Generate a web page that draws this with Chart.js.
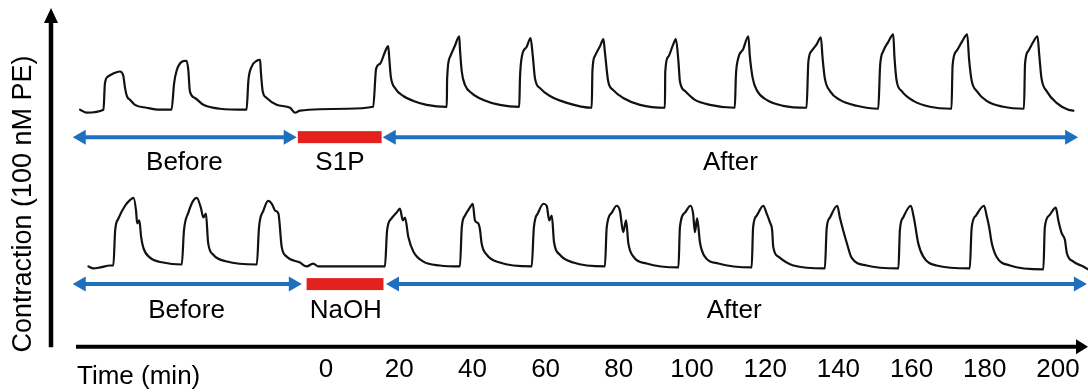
<!DOCTYPE html>
<html>
<head>
<meta charset="utf-8">
<script src="https://cdn.jsdelivr.net/npm/chart.js@4.4.1/dist/chart.umd.min.js"></script>
<style>
  html, body { margin: 0; padding: 0; background: #fff; }
  #wrap { width: 1088px; height: 392px; position: relative; }
</style>
</head>
<body>
<div id="wrap"><canvas id="c" width="1088" height="392"></canvas></div>
<script>
// ---- DATA (time in min, contraction in arbitrary units above baseline) ----
const timeTicks = [0, 20, 40, 60, 80, 100, 120, 140, 160, 180, 200];

// Top trace (S1P experiment)
const topTraceT = [-67.2,-65.4,-60.8,-60.4,-59.5,-58.1,-56.3,-55.4,-54.9,-54.4,-53.5,-52.2,-49.0,-45.4,-42.2,
  -41.5,-40.8,-39.4,-38.1,-37.6,-37.2,-35.8,-33.5,-29.0,-21.7,
  -21.2,-20.3,-18.9,-18.0,-17.8,-17.3,-16.2,-13.5,-9.8,-8.5,-7.1,5.7,12.9,
  13.7,14.8,16.1,17.0,17.3,17.7,18.9,21.1,23.9,27.5,33.0,
  33.1,33.9,35.2,36.4,36.6,37.1,38.0,39.8,43.0,47.5,52.8,
  53.0,53.5,54.8,55.9,56.5,57.1,58.5,61.2,65.8,72.6,
  72.8,73.5,74.9,75.8,76.2,77.1,78.5,81.2,85.8,92.6,
  92.7,93.5,94.9,95.6,96.3,96.7,98.1,100.8,104.9,111.7,
  112.0,112.6,114.0,115.4,115.8,116.6,117.7,120.4,124.9,131.3,
  131.8,132.7,134.1,135.2,135.7,136.3,137.7,140.4,145.0,150.9,
  151.4,152.3,153.6,155.0,155.3,155.9,157.3,160.5,165.0,170.9,
  171.2,172.3,173.7,175.2,175.7,176.4,177.8,180.5,185.0,190.7,
  191.0,191.9,193.2,194.4,194.9,195.5,196.9,199.6,202.8,204.2];
const topTraceV = [-0.1,-0.4,-0.1,2.6,3.3,3.6,3.8,3.4,2.1,1.3,0.9,0.4,0.1,-0.1,-0.1,
  2.6,3.9,4.8,4.9,3.9,1.8,1.1,0.4,0.0,-0.1,
  2.9,4.3,4.9,5.0,3.8,1.8,1.1,0.4,0.1,-0.4,-0.2,0.0,0.2,
  4.1,4.6,5.8,6.4,5.1,3.3,2.1,1.3,0.8,0.4,0.2,
  3.1,5.3,6.4,7.4,6.1,3.8,2.4,1.6,0.9,0.4,0.2,
  3.1,5.3,6.3,7.2,5.4,3.1,2.1,1.3,0.6,0.1,
  3.9,5.4,6.4,7.1,5.8,2.8,1.9,1.1,0.4,0.1,
  3.8,5.3,6.6,7.1,4.8,2.8,1.8,0.9,0.4,0.1,
  3.4,5.1,6.1,7.4,5.4,3.1,1.9,0.9,0.3,0.1,
  4.8,5.9,6.6,7.3,5.1,3.1,1.8,0.9,0.3,0.0,
  4.4,5.9,6.8,7.6,5.4,2.9,1.8,0.8,0.2,0.0,
  4.4,5.9,6.8,7.6,5.1,2.9,1.8,0.8,0.2,0.0,
  4.6,5.9,6.8,7.4,5.4,3.1,1.8,0.6,-0.1,-0.2];

// Bottom trace (NaOH experiment)
const botTraceT = [-64.9,-63.6,-61.7,-59.0,-58.1,
  -57.6,-56.7,-54.9,-53.5,-52.6,-51.9,-51.6,-51.0,-50.5,-49.9,-48.1,-44.5,-39.4,
  -38.8,-37.6,-36.3,-35.3,-34.2,-33.5,-32.8,-32.2,-30.8,-27.1,-18.9,
  -18.3,-17.1,-15.8,-14.8,-13.9,-13.0,-12.1,-10.7,-7.1,-5.3,-3.5,-2.1,5.7,16.1,
  16.7,17.9,19.3,20.2,21.0,21.6,22.5,23.9,26.6,31.1,36.6,
  37.1,38.0,39.3,40.1,40.7,41.6,42.1,42.5,43.9,47.5,56.2,
  56.8,58.0,59.4,60.3,61.0,61.7,62.3,63.9,67.6,76.2,
  76.7,78.1,79.4,80.3,81.2,82.0,82.6,84.0,87.6,96.3,
  96.7,98.1,99.6,100.3,100.8,101.4,102.2,103.5,107.2,116.3,
  116.7,117.7,119.5,120.4,121.3,121.9,122.2,123.6,127.7,136.3,
  136.8,137.7,139.7,140.4,141.3,142.3,143.6,147.7,156.4,
  156.8,157.7,159.8,160.5,160.9,161.8,163.2,166.8,175.9,
  176.4,177.6,179.8,180.5,181.2,181.9,183.2,186.9,196.0,
  196.4,197.6,199.4,200.1,201.0,201.9,202.4,204.2,206.9,208.2];
const botTraceV = [0.0,-0.2,-0.1,0.1,0.1,
  3.7,4.9,6.2,6.8,7.0,5.7,4.4,4.7,3.0,1.9,0.9,0.4,0.2,
  3.7,5.5,6.7,7.0,6.0,5.0,5.4,2.4,1.2,0.5,0.2,
  4.0,5.7,6.7,6.4,5.7,5.4,2.0,1.0,0.4,0.0,0.3,0.0,0.0,0.0,
  3.7,4.9,5.5,5.9,4.7,5.0,3.0,1.5,0.5,0.1,0.0,
  4.0,5.2,6.0,6.4,4.7,4.4,3.7,2.4,1.2,0.4,0.0,
  4.0,5.5,6.4,6.2,4.7,5.2,2.5,1.2,0.4,0.0,
  4.0,5.5,6.2,5.7,3.5,4.7,2.4,1.0,0.3,-0.1,
  4.0,5.5,6.2,5.4,3.5,4.9,2.4,1.0,0.3,-0.1,
  4.0,5.2,6.2,5.4,4.5,3.7,2.0,1.0,0.1,-0.2,
  3.9,5.0,6.2,5.0,3.7,2.4,0.9,0.1,-0.2,
  3.7,5.0,6.2,5.2,4.4,2.4,1.0,0.1,-0.2,
  3.9,5.2,6.2,5.2,4.0,2.4,1.0,0.1,-0.3,
  4.0,5.2,6.0,4.7,3.4,2.7,1.4,0.5,0.0,-0.3];

// Phase markers: [start, end] in min
const topBefore = [-69.2, -8.0], topTreat = [-7.7, 15.2], topAfter = [15.5, 205.5];
const botBefore = [-69.2, -6.6], botTreat = [-5.3, 15.7], botAfter = [16.4, 207.9];
const topMarkerLevel = -2.9, botMarkerLevel = -1.8;
const topLabels = ['Before', 'S1P', 'After'];
const topLabelT = [-38.7, 3.8, 110.5];
const topLabelLevel = -5.5;
const botLabels = ['Before', 'NaOH', 'After'];
const botLabelT = [-38.1, 5.4, 111.5];
const botLabelLevel = -4.5;

const xTitle = 'Time (min)';
const yTitle = 'Contraction (100 nM PE)';

// ---- STYLE ----
const FONT = '"Liberation Sans", Arial, Helvetica, sans-serif';
const BLUE = '#1f6fc0';
const RED = '#e3221f';

function pts(T, V) { return T.map((t, i) => ({ x: t, y: V[i] })); }

const decorPlugin = {
  id: 'decor',
  afterDatasetsDraw(chart) {
    const ctx = chart.ctx;
    const xs = chart.scales.x;
    const yT = chart.scales.yTop, yB = chart.scales.yBot;

    function arrow(t1, t2, yScale, level) {
      const x1 = xs.getPixelForValue(t1), x2 = xs.getPixelForValue(t2);
      const y = yScale.getPixelForValue(level);
      const hl = 13, hw = 7.5;
      ctx.save();
      ctx.strokeStyle = BLUE; ctx.fillStyle = BLUE; ctx.lineWidth = 4;
      ctx.beginPath(); ctx.moveTo(x1 + hl - 1, y); ctx.lineTo(x2 - hl + 1, y); ctx.stroke();
      ctx.beginPath(); ctx.moveTo(x1, y); ctx.lineTo(x1 + hl, y - hw); ctx.lineTo(x1 + hl, y + hw); ctx.closePath(); ctx.fill();
      ctx.beginPath(); ctx.moveTo(x2, y); ctx.lineTo(x2 - hl, y - hw); ctx.lineTo(x2 - hl, y + hw); ctx.closePath(); ctx.fill();
      ctx.restore();
    }
    function bar(t1, t2, yScale, level) {
      const x1 = xs.getPixelForValue(t1), x2 = xs.getPixelForValue(t2);
      const y = yScale.getPixelForValue(level);
      ctx.save(); ctx.fillStyle = RED; ctx.fillRect(x1, y - 6, x2 - x1, 12); ctx.restore();
    }
    function labels(names, T, yScale, level) {
      ctx.save();
      ctx.fillStyle = '#000'; ctx.font = '26px ' + FONT;
      ctx.textAlign = 'center'; ctx.textBaseline = 'middle';
      names.forEach((n, i) => ctx.fillText(n, xs.getPixelForValue(T[i]), yScale.getPixelForValue(level)));
      ctx.restore();
    }
    arrow(topBefore[0], topBefore[1], yT, topMarkerLevel);
    bar(topTreat[0], topTreat[1], yT, topMarkerLevel);
    arrow(topAfter[0], topAfter[1], yT, topMarkerLevel);
    arrow(botBefore[0], botBefore[1], yB, botMarkerLevel);
    bar(botTreat[0], botTreat[1], yB, botMarkerLevel);
    arrow(botAfter[0], botAfter[1], yB, botMarkerLevel);
    labels(topLabels, topLabelT, yT, topLabelLevel);
    labels(botLabels, botLabelT, yB, botLabelLevel);

    // axes
    const ay = chart.chartArea.bottom;
    ctx.save();
    ctx.fillStyle = '#000'; ctx.strokeStyle = '#000';
    ctx.lineWidth = 4.5;
    ctx.beginPath(); ctx.moveTo(51, ay + 0.5); ctx.lineTo(51, 20); ctx.stroke();
    ctx.beginPath(); ctx.moveTo(51, 8); ctx.lineTo(44, 23); ctx.lineTo(58, 23); ctx.closePath(); ctx.fill();
    ctx.lineWidth = 4;
    ctx.beginPath(); ctx.moveTo(76, ay); ctx.lineTo(1080, ay); ctx.stroke();
    ctx.beginPath(); ctx.moveTo(1088, ay); ctx.lineTo(1076, ay - 7.5); ctx.lineTo(1076, ay + 7.5); ctx.closePath(); ctx.fill();
    ctx.font = '26px ' + FONT; ctx.textAlign = 'left'; ctx.textBaseline = 'middle';
    ctx.fillText(xTitle, 77, 376.5);
    ctx.translate(23.5, 204); ctx.rotate(-Math.PI / 2);
    ctx.font = '27px ' + FONT; ctx.textAlign = 'center';
    ctx.fillText(yTitle, 0, 0);
    ctx.restore();
  }
};

const traceStyle = { borderColor: '#111', borderWidth: 2.2, pointRadius: 0, fill: false,
  cubicInterpolationMode: 'monotone', borderJoinStyle: 'round', borderCapStyle: 'round' };

new Chart(document.getElementById('c'), {
  type: 'line',
  data: {
    datasets: [
      Object.assign({ data: pts(topTraceT, topTraceV), yAxisID: 'yTop' }, traceStyle),
      Object.assign({ data: pts(botTraceT, botTraceV), yAxisID: 'yBot' }, traceStyle)
    ]
  },
  options: {
    responsive: false,
    animation: false,
    devicePixelRatio: 1,
    layout: { padding: 0 },
    plugins: { legend: { display: false }, tooltip: { enabled: false } },
    scales: {
      x: {
        type: 'linear', min: -89.07, max: 208.2,
        grid: { display: false, drawTicks: false },
        border: { display: false },
        afterBuildTicks: s => { s.ticks = timeTicks.map(v => ({ value: v })); },
        ticks: { color: '#000', font: { size: 26, family: FONT }, padding: 7, autoSkip: false, maxRotation: 0 }
      },
      yTop: { display: false, min: -24.3, max: 11.1 },
      yBot: { display: false, min: -8.2, max: 27.2 }
    }
  },
  plugins: [decorPlugin]
});
</script>
</body>
</html>
